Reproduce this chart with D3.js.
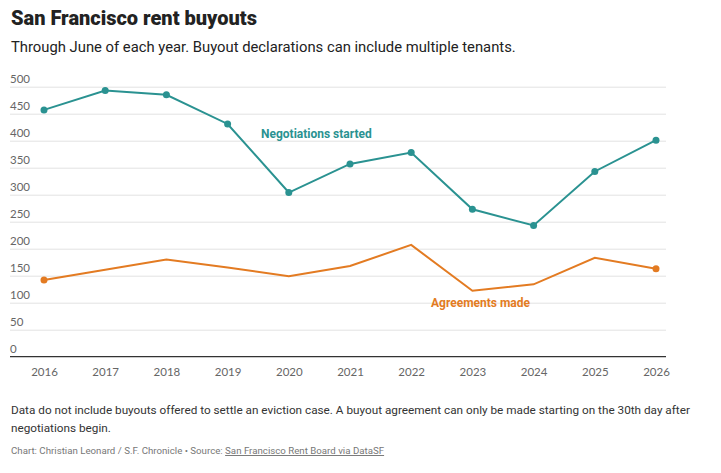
<!DOCTYPE html>
<html>
<head>
<meta charset="utf-8">
<script src="https://cdn.jsdelivr.net/npm/d3@7"></script>
<style>
  body { margin: 0; background: #fff; font-family: "Open Sans", sans-serif; }
  .grid line { stroke: #e3e3e3; stroke-width: 1; }
  .tick text { fill: #666; }
</style>
</head>
<body>
<script>
const years = [2016, 2017, 2018, 2019, 2020, 2021, 2022, 2023, 2024, 2025, 2026];
const negotiations = [457, 493, 485, 431, 304, 357, 378, 273, 243, 343, 401];
const agreements = [142, 161, 180, 165, 149, 168, 207, 122, 134, 183, 163];
const yTicks = [0, 50, 100, 150, 200, 250, 300, 350, 400, 450, 500];

const width = 721;
const height = 473;

let svg = d3.select("body").append("svg")
    .attr("width", width)
    .attr("height", height);

// titulos
svg.append("text")
    .attr("x", 11).attr("y", 25)
    .style("font-family", "Roboto")
    .style("font-weight", "900")
    .style("font-size", "20px")
    .attr("fill", "#222")
    .text("San Francisco rent buyouts");

svg.append("text")
    .attr("x", 11).attr("y", 52)
    .style("font-family", "Roboto")
    .style("font-size", "14.8px")
    .attr("fill", "#222")
    .text("Through June of each year. Buyout declarations can include multiple tenants.");

let xScale = d3.scalePoint()
    .domain(years)
    .range([44, 656]);

let yScale = d3.scaleLinear()
    .domain([0, 500])
    .range([356.7, 86.7]);

// grid + etiquetas eje y
let yAxis = svg.append("g")
    .attr("class", "grid")
    .call(d3.axisRight(yScale)
        .tickValues(yTicks)
        .tickSize(656)
        .tickFormat(d => d))
    .attr("transform", "translate(10,0)");
yAxis.select(".domain").remove();
yAxis.selectAll(".tick text")
    .attr("x", 0)
    .attr("dy", -4)
    .style("font-family", "Lato")
    .style("font-size", "11.5px")
    .attr("text-anchor", "start");
yAxis.selectAll(".tick").filter(d => d === 0).select("line").remove();

// eje x
let xAxis = svg.append("g")
    .attr("transform", `translate(0,${yScale(0)})`)
    .call(d3.axisBottom(xScale).tickSize(0).tickPadding(11));
xAxis.select(".domain")
    .attr("d", `M10,0H666`)
    .attr("stroke", "#333")
    .attr("stroke-width", 1.3);
xAxis.selectAll(".tick text")
    .style("font-family", "Lato")
    .style("font-size", "11.5px");

let line = d3.line()
    .x((d, i) => xScale(years[i]))
    .y(d => yScale(d));

const teal = "#2a9291";
const orange = "#e37b22";

svg.append("path")
    .datum(agreements)
    .attr("d", line)
    .attr("fill", "none")
    .attr("stroke", orange)
    .attr("stroke-width", 2);

svg.selectAll(".dot-a")
    .data([0, agreements.length - 1])
    .enter().append("circle")
    .attr("cx", i => xScale(years[i]))
    .attr("cy", i => yScale(agreements[i]))
    .attr("r", 3.5)
    .attr("fill", orange);

svg.append("path")
    .datum(negotiations)
    .attr("d", line)
    .attr("fill", "none")
    .attr("stroke", teal)
    .attr("stroke-width", 2);

svg.selectAll(".dot-n")
    .data(negotiations)
    .enter().append("circle")
    .attr("cx", (d, i) => xScale(years[i]))
    .attr("cy", d => yScale(d))
    .attr("r", 3.5)
    .attr("fill", teal);

// etiquetas de series
svg.append("text")
    .attr("x", 261).attr("y", 138)
    .style("font-family", "Roboto")
    .style("font-weight", "bold")
    .style("font-size", "12px")
    .attr("fill", teal)
    .text("Negotiations started");

svg.append("text")
    .attr("x", 431).attr("y", 307)
    .style("font-family", "Roboto")
    .style("font-weight", "bold")
    .style("font-size", "12px")
    .attr("fill", orange)
    .text("Agreements made");

// notas
let notes = svg.append("g")
    .style("font-family", "Roboto")
    .style("font-size", "11.75px")
    .attr("fill", "#333");
notes.append("text").attr("x", 11).attr("y", 414)
    .text("Data do not include buyouts offered to settle an eviction case. A buyout agreement can only be made starting on the 30th day after");
notes.append("text").attr("x", 11).attr("y", 432)
    .text("negotiations begin.");

let src = svg.append("text")
    .attr("x", 11).attr("y", 454)
    .style("font-family", "Roboto")
    .style("font-size", "9.7px")
    .attr("fill", "#777");
src.append("tspan").text("Chart: Christian Leonard / S.F. Chronicle \u2022 Source: ");
src.append("tspan")
    .attr("text-decoration", "underline")
    .text("San Francisco Rent Board via DataSF");
</script>
</body>
</html>
